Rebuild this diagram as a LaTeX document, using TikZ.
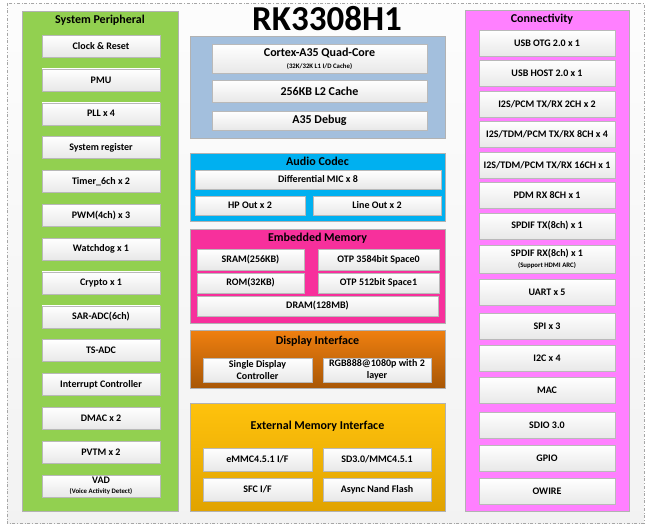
\documentclass[tikz,border=0pt]{standalone}
\usepackage{fontspec}
\setmainfont{Carlito}
\usepackage{xcolor}
\usepackage{tikz}
\definecolor{spgreen}{HTML}{92D050}
\definecolor{cpublue}{HTML}{A3BFDD}
\definecolor{audiocyan}{HTML}{00B0F0}
\definecolor{memmag}{HTML}{F7309C}
\definecolor{conpink}{HTML}{FF80FF}
\newcommand{\smalltxt}{\fontsize{6.8}{7.5}\selectfont}
\tikzset{
    every node/.style={font=\bfseries\fontsize{10}{11.7}\selectfont, inner sep=0pt},
    unit/.style 2 args={draw=gray!55, top color=white, bottom color=gray!18,
        minimum width=#1, minimum height=#2, align=center},
    panel/.style={draw=gray!60, anchor=north west, inner sep=0pt},
    ptitle/.style={font=\bfseries\fontsize{12}{14}\selectfont},
    cpuunit/.style={font=\bfseries\fontsize{12}{13}\selectfont}
}

\begin{document}
\begin{tikzpicture}[x=1pt, y=-1pt]
        \useasboundingbox (0,0) rectangle (650,528);
        \draw[gray!70, top color=gray!2, bottom color=gray!10, dash dot] (7,3) rectangle (644,523);
        \node[font=\bfseries\fontsize{35}{38}\selectfont] (chip) at (327,19) {RK3308H1};

        % system peripheral
        \node[panel, fill=spgreen, minimum width=156, minimum height=500] (sysp) at (22,11) {};
        \node[ptitle] (syspt) at (100,20) {System Peripheral};
        \foreach \lbl [count=\i from 0] in {Clock \& Reset, PMU, PLL x 4, System register,
            Timer\_6ch x 2, PWM(4ch) x 3, Watchdog x 1, Crypto x 1, SAR-ADC(6ch), TS-ADC,
            Interrupt Controller, DMAC x 2, PVTM x 2}
            \node[unit={118}{22}] (sp\i) at (101,46+33.85*\i) {\lbl};
        \node[unit={118}{22}] (vad) at (101,486) {VAD\\[-2pt]{\smalltxt (Voice Activity Detect)}};

        % cpu
        \node[panel, fill=cpublue, minimum width=255, minimum height=102] (cpu) at (190,36) {};
        \node[unit={215}{29}, cpuunit] (core) at (319.5,58.5) {Cortex-A35 Quad-Core\\[-1pt]{\smalltxt (32K/32K L1 I/D Cache)}};
        \node[unit={215}{22}, cpuunit] (ltwo) at (319.5,91) {256KB L2 Cache};
        \node[unit={215}{19}, cpuunit] (dbg) at (319.5,120.5) {A35 Debug};

        % audio codec
        \node[panel, fill=audiocyan, minimum width=255, minimum height=68] (audio) at (190,153) {};
        \node[ptitle] (audiot) at (317.5,161) {Audio Codec};
        \node[unit={246}{19}] (mic) at (318,179.5) {Differential MIC x 8};
        \node[unit={110}{19}] (hp) at (250,205.5) {HP Out x 2};
        \node[unit={128}{19}] (lout) at (377,205.5) {Line Out x 2};

        % embedded memory
        \node[panel, fill=memmag, minimum width=255, minimum height=94] (emem) at (190,229) {};
        \node[ptitle] (ememt) at (317.5,238) {Embedded Memory};
        \node[unit={107}{21}] (sram) at (250.5,259.5) {SRAM(256KB)};
        \node[unit={121}{21}] (otpa) at (378.5,259.5) {OTP 3584bit Space0};
        \node[unit={107}{20}] (rom) at (250.5,283) {ROM(32KB)};
        \node[unit={121}{20}] (otpb) at (378.5,283) {OTP 512bit Space1};
        \node[unit={241}{20}] (dram) at (317.5,306) {DRAM(128MB)};

        % display interface
        \node[panel, top color=orange!75!brown, bottom color=orange!65!black!92!brown, minimum width=255, minimum height=58] (disp) at (190,330) {};
        \node[ptitle] (dispt) at (317.5,341) {Display Interface};
        \node[unit={109}{24}] (vop) at (257.5,370) {Single Display\\Controller};
        \node[unit={108}{24}] (rgb) at (377,370) {RGB888@1080p with 2\\layer};

        % external memory
        \node[panel, top color=yellow!50!orange!95!white, bottom color=yellow!45!orange!88!black, minimum width=255, minimum height=108] (extm) at (190,403) {};
        \node[ptitle] (extmt) at (317.5,426) {External Memory Interface};
        \node[unit={109}{23}] (emmc) at (257.5,459.5) {eMMC4.5.1 I/F};
        \node[unit={108}{23}] (sdmmc) at (377,459.5) {SD3.0/MMC4.5.1};
        \node[unit={109}{23}] (sfc) at (257.5,489.5) {SFC I/F};
        \node[unit={108}{23}] (nand) at (377,489.5) {Async Nand Flash};

        % connectivity
        \node[panel, fill=conpink, minimum width=164, minimum height=501] (conn) at (465,10) {};
        \node[ptitle] (connt) at (542,19) {Connectivity};
        \foreach \yc/\lbl [count=\i] in {43.5/{USB OTG 2.0 x 1}, 73/{USB HOST 2.0 x 1},
            104/{I2S/PCM TX/RX 2CH x 2}, 134.5/{I2S/TDM/PCM TX/RX 8CH x 4},
            165.5/{I2S/TDM/PCM TX/RX 16CH x 1}, 195.5/{PDM RX 8CH x 1}, 226/{SPDIF TX(8ch) x 1},
            292.5/{UART x 5}, 326/{SPI x 3}, 358/{I2C x 4}, 390.5/{MAC}, 425/{SDIO 3.0},
            458/{GPIO}, 491.5/{OWIRE}}
            \node[unit={136}{26}] (cn\i) at (547,\yc) {\lbl};
        \node[unit={136}{28}] (spdifrx) at (547,259) {SPDIF RX(8ch) x 1\\[-1pt]{\smalltxt (Support HDMI ARC)}};
    \end{tikzpicture}
\end{document}
